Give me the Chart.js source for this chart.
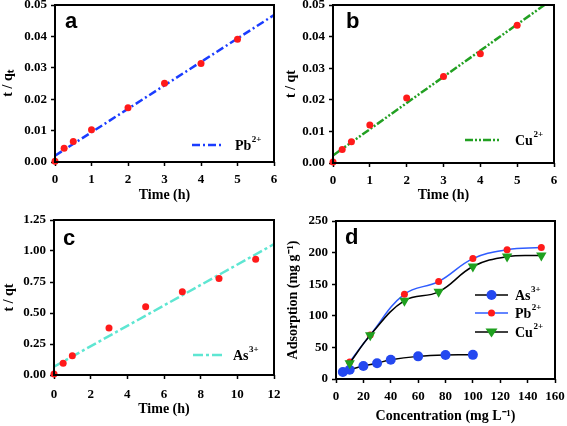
<!DOCTYPE html>
<html>
<head>
<meta charset="utf-8">
<script src="https://cdn.jsdelivr.net/npm/chart.js@4.4.1/dist/chart.umd.min.js"></script>
<style>
  body { margin: 0; background: #fff; }
  .panel { position: absolute; }
</style>
</head>
<body>
<div class="panel" style="left:0;top:0;width:283px;height:213px"><canvas id="chartA"></canvas></div>
<div class="panel" style="left:283px;top:0;width:284px;height:213px"><canvas id="chartB"></canvas></div>
<div class="panel" style="left:0;top:213px;width:283px;height:213px"><canvas id="chartC"></canvas></div>
<div class="panel" style="left:283px;top:213px;width:284px;height:213px"><canvas id="chartD"></canvas></div>
<script>
// kinetic data (panels a, b)
const timeAB = [0, 0.25, 0.5, 1, 2, 3, 4, 5];
const pbKinetic = [0.0002, 0.0044, 0.0065, 0.0103, 0.0173, 0.0251, 0.0314, 0.0391];
const cuKinetic = [0.0003, 0.0043, 0.0067, 0.0120, 0.0206, 0.0274, 0.0346, 0.0436];
const pbFitX = [0, 6];
const pbFitY = [0.0020, 0.0468];
const cuFitX = [0, 5.74];
const cuFitY = [0.0024, 0.05];

// kinetic data (panel c)
const timeC = [0, 0.5, 1, 3, 5, 7, 9, 11];
const asKinetic = [0.008, 0.094, 0.155, 0.38, 0.551, 0.672, 0.779, 0.934];
const asFitX = [0, 12];
const asFitY = [0.067, 1.055];

// isotherms (panel d)
const concAs = [5, 10, 20, 30, 40, 60, 80, 100];
const asIso = [11, 14.5, 20.5, 25, 30.5, 35.8, 38, 38.2];
const concPbCu = [10, 25, 50, 75, 100, 125, 150];
const pbIso = [27, 69.6, 134.2, 154.3, 190.5, 204.5, 208];
const cuIso = [25, 69.2, 124, 137.9, 178, 193.7, 195.6];

const SERIF = '"Liberation Serif", "Times New Roman", serif';
Chart.defaults.font.family = SERIF;
Chart.defaults.font.weight = 'bold';
Chart.defaults.font.size = 13;
Chart.defaults.color = '#000';

const pts = (xs, ys) => xs.map((x, i) => ({ x: x, y: ys[i] }));

// frame, panel letter and the small legend inside the plot
const panelDecor = {
  id: 'panelDecor',
  afterDraw(chart, args, opts) {
    const ctx = chart.ctx, a = chart.chartArea;
    ctx.save();
    ctx.strokeStyle = '#000';
    ctx.lineWidth = 2;
    ctx.strokeRect(a.left, a.top, a.right - a.left, a.bottom - a.top);
    ctx.fillStyle = '#000';
    ctx.font = 'bold 22px "Liberation Sans", Arial, sans-serif';
    ctx.textBaseline = 'alphabetic';
    ctx.fillText(opts.letter, opts.letterX, opts.letterY);
    (opts.legend || []).forEach(item => {
      const ds = chart.data.datasets[item.dataset];
      ctx.save();
      ctx.strokeStyle = ds.borderColor;
      ctx.lineWidth = ds.borderWidth;
      ctx.setLineDash(ds.borderDash || []);
      ctx.beginPath();
      ctx.moveTo(item.x0, item.y);
      ctx.lineTo(item.x1, item.y);
      ctx.stroke();
      ctx.restore();
      if (item.marker) {
        const cx = (item.x0 + item.x1) / 2, r = ds.pointRadius;
        ctx.fillStyle = ds.pointBackgroundColor;
        ctx.beginPath();
        if (ds.pointStyle === 'triangle') {
          ctx.moveTo(cx - r, item.y - r * 0.6);
          ctx.lineTo(cx + r, item.y - r * 0.6);
          ctx.lineTo(cx, item.y + r * 0.9);
          ctx.closePath();
        } else {
          ctx.arc(cx, item.y, r, 0, Math.PI * 2);
        }
        ctx.fill();
      }
      ctx.fillStyle = '#000';
      ctx.textBaseline = 'middle';
      ctx.font = 'bold 14px ' + SERIF;
      ctx.fillText(item.label, item.tx, item.y + 1);
      const w = ctx.measureText(item.label).width;
      ctx.font = 'bold 9px ' + SERIF;
      ctx.fillText(item.sup, item.tx + w + 0.5, item.y - 5);
    });
    ctx.restore();
  }
};

function makeScales(box, W, H, xr, yr) {
  const tickGrid = { display: true, drawOnChartArea: false, drawTicks: true, tickLength: 4, tickWidth: 1.5, color: '#000' };
  return {
    x: {
      type: 'linear', min: xr.min, max: xr.max,
      border: { display: false },
      grid: tickGrid,
      ticks: { stepSize: xr.step, padding: xr.pad, maxRotation: 0, autoSkip: false },
      title: { display: true, text: xr.title, font: { size: 14, weight: 'bold' }, padding: { top: 0, bottom: xr.titlePad } },
      afterFit(s) { s.height = H - box.bottom; s.paddingLeft = 0; s.paddingRight = 0; }
    },
    y: {
      type: 'linear', min: yr.min, max: yr.max,
      border: { display: false },
      grid: tickGrid,
      ticks: { stepSize: yr.step, padding: 4, callback: v => v.toFixed(yr.dec) },
      title: { display: true, text: yr.title, font: { size: 14, weight: 'bold' }, padding: { top: yr.titlePad, bottom: 0 } },
      afterFit(s) { s.width = box.left; s.paddingTop = 0; s.paddingBottom = 0; }
    }
  };
}

function baseOptions(box, W, H, xr, yr, decor) {
  return {
    responsive: true,
    maintainAspectRatio: false,
    animation: false,
    layout: { padding: { top: box.top, right: W - box.right, left: 0, bottom: 0 } },
    scales: makeScales(box, W, H, xr, yr),
    plugins: { legend: { display: false }, tooltip: { enabled: false }, panelDecor: decor }
  };
}

function kineticChart(id, W, box, xs, ys, fx, fy, color, dash, xr, yr, decor) {
  return new Chart(document.getElementById(id), {
    type: 'scatter',
    data: {
      datasets: [
        { data: pts(xs, ys), pointRadius: 3.5, pointBackgroundColor: '#ff1a1a', pointBorderWidth: 0, showLine: false, clip: false, order: 0 },
        { data: pts(fx, fy), showLine: true, borderColor: color, borderWidth: 2.5, borderDash: dash, pointRadius: 0, order: 1 }
      ]
    },
    options: baseOptions(box, W, 213, xr, yr, decor),
    plugins: [panelDecor]
  });
}

// a
kineticChart('chartA', 283, { left: 55, top: 5, right: 274, bottom: 162 },
  timeAB, pbKinetic, pbFitX, pbFitY, '#1a3cff', [8, 3, 2, 3],
  { min: 0, max: 6, step: 1, pad: 6, title: 'Time (h)', titlePad: 9.6 },
  { min: 0, max: 0.05, step: 0.01, dec: 2, title: 't / q\u209C', titlePad: 0 },
  { letter: 'a', letterX: 65, letterY: 28,
    legend: [{ dataset: 1, x0: 192, x1: 223, y: 145, tx: 235, label: 'Pb', sup: '2+' }] });

// b
kineticChart('chartB', 284, { left: 50, top: 5, right: 271, bottom: 163 },
  timeAB, cuKinetic, cuFitX, cuFitY, '#22a022', [8, 2, 2, 2, 2, 2],
  { min: 0, max: 6, step: 1, pad: 6, title: 'Time (h)', titlePad: 9.6 },
  { min: 0, max: 0.05, step: 0.01, dec: 2, title: 't / qt', titlePad: 0 },
  { letter: 'b', letterX: 63, letterY: 28,
    legend: [{ dataset: 1, x0: 182, x1: 217, y: 140, tx: 232, label: 'Cu', sup: '2+' }] });

// c
kineticChart('chartC', 283, { left: 54, top: 7, right: 274, bottom: 162 },
  timeC, asKinetic, asFitX, asFitY, '#5ee6d2', [10, 3, 3, 3],
  { min: 0, max: 12, step: 2, pad: 8, title: 'Time (h)', titlePad: 8.6 },
  { min: 0, max: 1.25, step: 0.25, dec: 2, title: 't / qt', titlePad: 0.5 },
  { letter: 'c', letterX: 63, letterY: 32,
    legend: [{ dataset: 1, x0: 193, x1: 222, y: 142, tx: 233, label: 'As', sup: '3+' }] });

// d
const boxD = { left: 53, top: 8, right: 272, bottom: 166 };
new Chart(document.getElementById('chartD'), {
  type: 'line',
  data: {
    datasets: [
      { data: pts(concAs, asIso), borderColor: '#000', borderWidth: 1.5, tension: 0.4, clip: false,
        pointStyle: 'circle', pointRadius: 5, pointBackgroundColor: '#2448f0', pointBorderWidth: 0, order: 1 },
      { data: pts(concPbCu, pbIso), borderColor: '#2f5cff', borderWidth: 1.5, tension: 0.4, clip: false,
        pointStyle: 'circle', pointRadius: 3.5, pointBackgroundColor: '#ff1a1a', pointBorderWidth: 0, order: 2 },
      { data: pts(concPbCu, cuIso), borderColor: '#000', borderWidth: 1.5, tension: 0.4, clip: false,
        pointStyle: 'triangle', rotation: 180, pointRadius: 6, pointBackgroundColor: '#1fa01f', pointBorderWidth: 0, order: 0 }
    ]
  },
  options: baseOptions(boxD, 284, 213,
    { min: 0, max: 160, step: 20, pad: 6, title: 'Concentration (mg L\u207B\u00B9)', titlePad: 1.6 },
    { min: 0, max: 250, step: 50, dec: 0, title: 'Adsorption (mg g\u207B\u00B9)', titlePad: 1.5 },
    { letter: 'd', letterX: 62, letterY: 31,
      legend: [
        { dataset: 0, marker: true, x0: 192, x1: 225, y: 82, tx: 232, label: 'As', sup: '3+' },
        { dataset: 1, marker: true, x0: 192, x1: 225, y: 100, tx: 232, label: 'Pb', sup: '2+' },
        { dataset: 2, marker: true, x0: 192, x1: 225, y: 119, tx: 232, label: 'Cu', sup: '2+' }
      ] }),
  plugins: [panelDecor]
});
</script>
</body>
</html>
